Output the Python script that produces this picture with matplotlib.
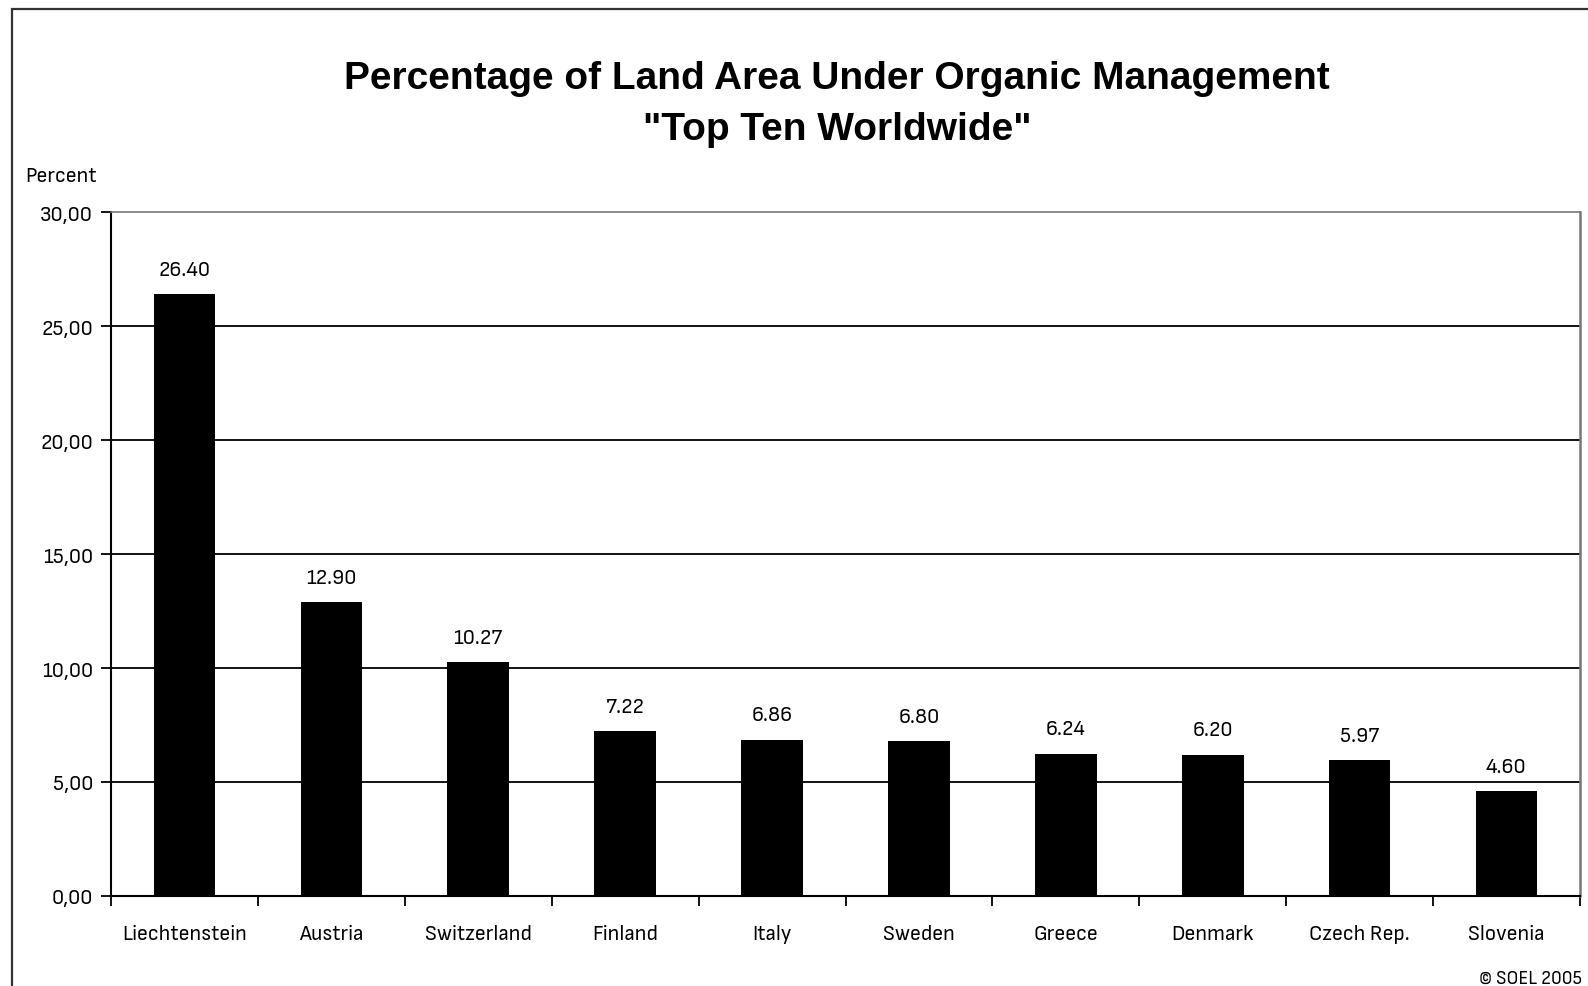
import matplotlib.pyplot as plt
from matplotlib.patches import Rectangle
import numpy as np

countries = ["Liechtenstein", "Austria", "Switzerland", "Finland", "Italy",
             "Sweden", "Greece", "Denmark", "Czech Rep.", "Slovenia"]
percent = [26.40, 12.90, 10.27, 7.22, 6.86, 6.80, 6.24, 6.20, 5.97, 4.60]
y_ticks = [0, 5, 10, 15, 20, 25, 30]

narrow = ["Sofia Sans Semi Condensed", "DejaVu Sans"]

fig = plt.figure(figsize=(15.88, 9.87), dpi=100)
ax = fig.add_axes([111 / 1588, 90 / 987, 1469 / 1588, 684 / 987])

# outer border of the chart area (cut off at right and bottom)
top = 1 - 10 / 987
fig.patches.append(Rectangle((12 / 1588, -0.05), 1.2, top + 0.05,
                             transform=fig.transFigure, fill=False,
                             edgecolor="#333333", linewidth=1.6))

x = np.arange(len(countries))
ax.bar(x, percent, width=0.42, color="black", zorder=3)

for xi, v in zip(x, percent):
    ax.annotate(f"{v:.2f}", (xi, v), xytext=(0, 11), textcoords="offset points",
                ha="center", va="bottom", fontsize=16, family=narrow)

ax.set_xlim(-0.5, len(countries) - 0.5)
ax.set_ylim(0, 30)
ax.set_yticks(y_ticks)
ax.set_yticklabels([f"{t:.2f}".replace(".", ",") for t in y_ticks], fontsize=16, family=narrow)
for t in y_ticks[1:-1]:
    ax.axhline(t, color="black", linewidth=1.3, zorder=1)

ax.set_xticks(x)
ax.set_xticklabels(countries, fontsize=16, family=narrow)
ax.set_xticks(np.arange(len(countries) + 1) - 0.5, minor=True)
ax.tick_params(axis="x", which="major", length=0, pad=20)
ax.tick_params(axis="x", which="minor", length=7, width=1.3, direction="out")
ax.tick_params(axis="y", length=7, width=1.3, direction="out", pad=6)

ax.spines["left"].set_color("black")
ax.spines["left"].set_linewidth(1.5)
ax.spines["bottom"].set_color("black")
ax.spines["bottom"].set_linewidth(1.5)
ax.spines["top"].set_color("#777777")
ax.spines["top"].set_linewidth(1.2)
ax.spines["right"].set_color("#777777")
ax.spines["right"].set_linewidth(1.8)

fig.text(837 / 1588, 1 - 79 / 987, "Percentage of Land Area Under Organic Management",
         ha="center", va="center", fontsize=28, fontweight="bold", family="Liberation Sans")
fig.text(837 / 1588, 1 - 130 / 987, "\"Top Ten Worldwide\"",
         ha="center", va="center", fontsize=28, fontweight="bold", family="Liberation Sans")
fig.text(25 / 1588, 1 - 177 / 987, "Percent", ha="left", va="center", fontsize=16, family=narrow)
fig.text(1479 / 1588, 1 - 979 / 987, "\u00a9 SOEL 2005", ha="left", va="center",
         fontsize=14, family=narrow)

fig.savefig("out.png", dpi=100)
